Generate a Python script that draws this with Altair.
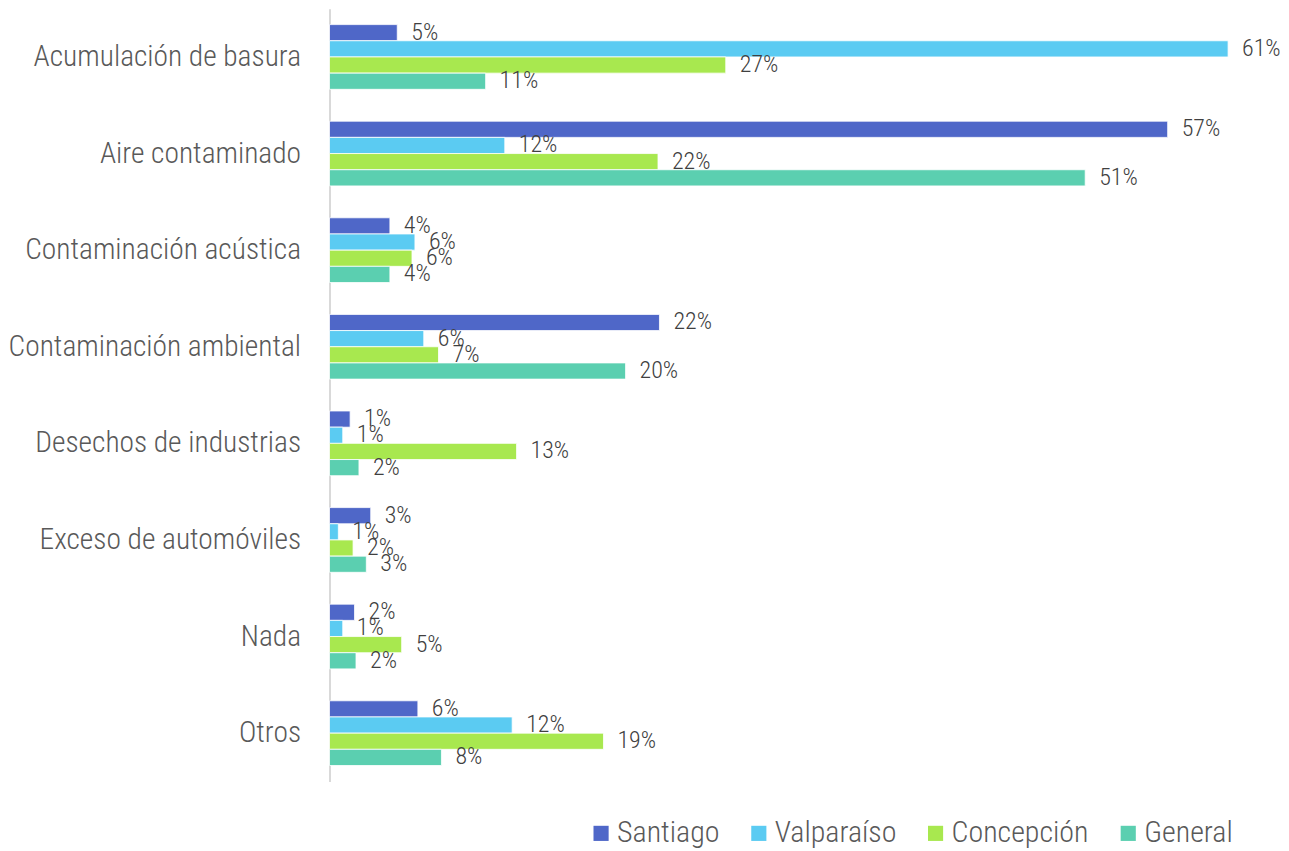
import altair as alt
import pandas as pd

categories = ["Acumulación de basura", "Aire contaminado", "Contaminación acústica",
              "Contaminación ambiental", "Desechos de industrias", "Exceso de automóviles",
              "Nada", "Otros"]
series = ["Santiago", "Valparaíso", "Concepción", "General"]
colors = ["#4F67C8", "#5BCBF2", "#A8E84F", "#5BCFB0"]

santiago = [4.6, 56.9, 4.1, 22.4, 1.4, 2.8, 1.7, 6.0]
valparaiso = [61.0, 11.9, 5.8, 6.4, 0.9, 0.6, 0.9, 12.4]
concepcion = [26.9, 22.3, 5.6, 7.4, 12.7, 1.6, 4.9, 18.6]
general = [10.6, 51.3, 4.1, 20.1, 2.0, 2.5, 1.8, 7.6]

rows = []
for name, vals in zip(series, [santiago, valparaiso, concepcion, general]):
    for c, v in zip(categories, vals):
        rows.append({"cat": c, "serie": name, "value": v})
df = pd.DataFrame(rows)

FONT = "Liberation Sans Narrow, Arial Narrow, Roboto Condensed, Liberation Sans, sans-serif"

y = alt.Y("cat:N", sort=categories, title=None,
          scale=alt.Scale(paddingInner=0.33, paddingOuter=0.165),
          axis=alt.Axis(domainColor="#d9d9d9", domainWidth=2, ticks=False,
                        labelFontSize=29.5, labelColor="#595959", labelFont=FONT,
                        labelFontWeight=300,
                        labelPadding=29, labelLimit=400))
x = alt.X("value:Q", title=None, scale=alt.Scale(domain=[0, 61], nice=False),
          axis=None)
yoff = alt.YOffset("serie:N", sort=series, scale=alt.Scale(paddingInner=0, paddingOuter=0))

base = alt.Chart(df).encode(y=y, x=x, yOffset=yoff)

bars = base.mark_bar(stroke="white", strokeWidth=0.8).encode(
    color=alt.Color("serie:N", sort=series,
                    scale=alt.Scale(domain=series, range=colors),
                    legend=alt.Legend(title=None, orient="none", direction="horizontal",
                                      legendX=257, legendY=811,
                                      symbolType="square", symbolSize=230,
                                      symbolStrokeWidth=0,
                                      labelFontSize=30, labelColor="#595959",
                                      labelFont=FONT, labelFontWeight=300,
                                      columnPadding=24, labelOffset=1))
)

labels = base.transform_calculate(
    lbl="format(round(datum.value), 'd') + '%'"
).mark_text(align="left", baseline="middle", dx=14, fontSize=24, fontWeight=300,
            color="#404040", font=FONT).encode(text="lbl:N")

chart = (bars + labels).properties(
    width=900, height=774,
    autosize=alt.AutoSizeParams(type="none"),
    padding={"left": 322, "top": 0, "right": 53, "bottom": 68},
).configure_view(stroke=None)

chart.save("out.html", embed_options={"renderer": "svg", "actions": False})
